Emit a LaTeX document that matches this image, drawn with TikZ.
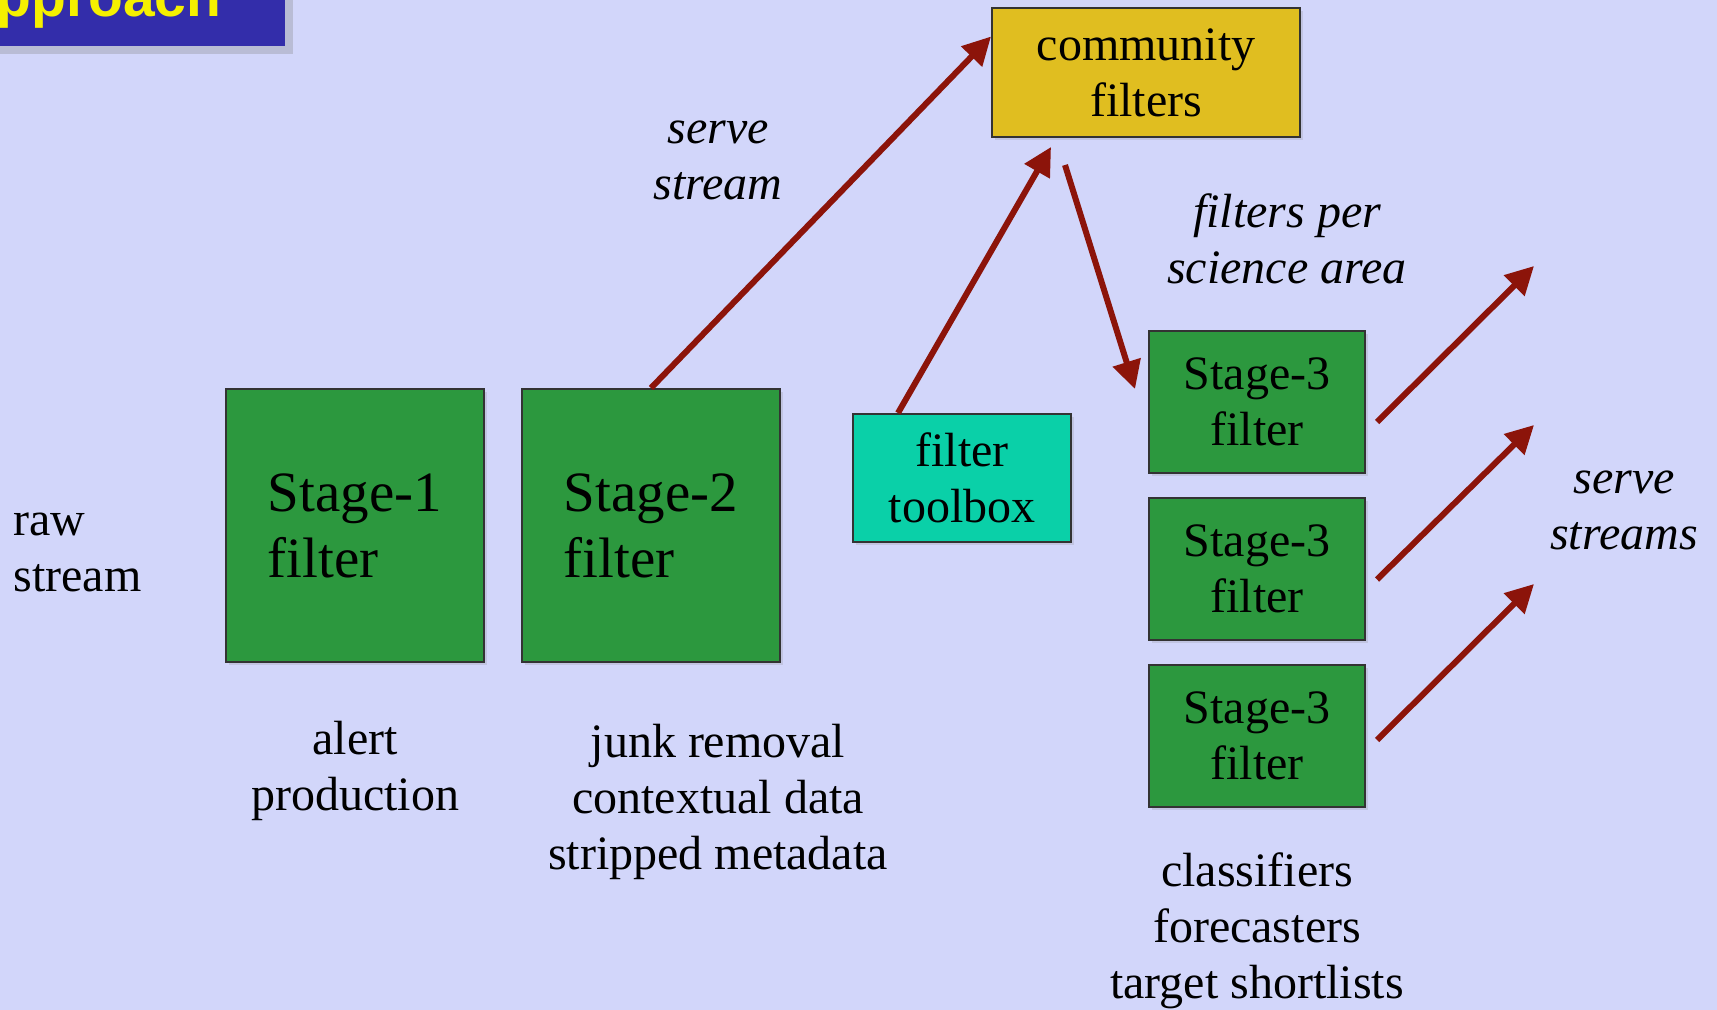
\documentclass[tikz,border=0pt]{standalone}
\usepackage{fontspec}
\setmainfont{Liberation Serif}
\newfontfamily\headfont{Liberation Sans}
\usetikzlibrary{positioning,arrows.meta,shadows}

\definecolor{pagebg}{RGB}{210,214,250}
\definecolor{headblue}{RGB}{51,45,170}
\definecolor{headyellow}{RGB}{245,240,0}
\definecolor{stagegreen}{RGB}{44,152,62}
\definecolor{toolteal}{RGB}{10,208,168}
\definecolor{commyellow}{RGB}{224,190,32}
\definecolor{flowred}{RGB}{140,20,10}

\begin{document}
\begin{tikzpicture}[x=0.5pt, y=-0.5pt,
		box/.style={draw=black!80, line width=1pt, inner sep=0pt, align=center,
			font=\fontsize{24}{28}\selectfont,
			drop shadow={shadow xshift=1.5pt, shadow yshift=-1.5pt, opacity=0.2}},
		bigstage/.style={box, fill=stagegreen, minimum width=129pt, minimum height=136.5pt,
			align=left, font=\fontsize{28.5}{33}\selectfont},
		smallstage/.style={box, fill=stagegreen, minimum width=108pt, minimum height=71pt},
		note/.style={inner sep=0pt, align=center, font=\fontsize{24}{28}\selectfont},
		flow/.style={line width=3pt, color=flowred, -{Triangle[length=14pt, width=14pt]}}]
		\useasboundingbox (0,0) rectangle (1717,1010);
		\fill[pagebg] (0,0) rectangle (1717,1010);

		% title strip, cut by the page edge
		\fill[headblue, drop shadow={shadow xshift=4pt, shadow yshift=-4pt, opacity=0.3}]
			(-30,-30) rectangle (285,46);
		\node [anchor=base west, inner sep=0pt, text=headyellow,
			font=\headfont\bfseries\fontsize{28.5}{28.5}\selectfont] (title) at (-4,17) {pproach};

		\node [bigstage] (s1) at (355,525.5) {Stage-1\\filter};
		\node [bigstage, right=18pt of s1] (s2) {Stage-2\\filter};
		\node [box, fill=toolteal, minimum width=109pt, minimum height=64pt] (tb) at (962,478) {filter\\toolbox};
		\node [box, fill=commyellow, minimum width=154pt, minimum height=64.5pt] (cf) at (1146,72.5) {community\\filters};
		\node [smallstage] (s3a) at (1257,402) {Stage-3\\filter};
		\node [smallstage, below=11.5pt of s3a] (s3b) {Stage-3\\filter};
		\node [smallstage, below=11.5pt of s3b] (s3c) {Stage-3\\filter};

		\node [note, anchor=west, align=left] (raw) at (13,552) {raw\\stream};
		\node [note] (alert) at (355,771) {alert\\production};
		\node [note] (junk) at (718,802) {junk removal\\contextual data\\stripped metadata};
		\node [note] (cls) at (1257,931) {classifiers\\forecasters\\target shortlists};
		\node [note, font=\itshape\fontsize{24}{28}\selectfont] (serve) at (718,160) {serve\\stream};
		\node [note, font=\itshape\fontsize{24}{28}\selectfont] (area) at (1287,239) {filters per\\science area};
		\node [note, font=\itshape\fontsize{24}{28}\selectfont] (serves) at (1624,510) {serve\\streams};

		\coordinate (outa) at ([xshift=84pt, yshift=68pt]s3a.east);
		\coordinate (outb) at ([xshift=84pt, yshift=72pt]s3b.east);
		\coordinate (outc) at ([xshift=84pt, yshift=76pt]s3c.east);

		\path[flow] (s2.north) edge ([yshift=18pt]cf.west);
		\path[flow] ([xshift=-32pt]tb.north) edge ([xshift=-47.5pt, yshift=-4.5pt]cf.south);
		\path[flow] ([xshift=-40.5pt, yshift=-13.5pt]cf.south) edge ([xshift=-6.5pt, yshift=6.5pt]s3a.west);
		\path[flow] ([xshift=5.5pt, yshift=-10pt]s3a.east) edge (outa);
		\path[flow] ([xshift=5.5pt, yshift=-5.25pt]s3b.east) edge (outb);
		\path[flow] ([xshift=5.5pt, yshift=-2pt]s3c.east) edge (outc);
	\end{tikzpicture}
\end{document}
